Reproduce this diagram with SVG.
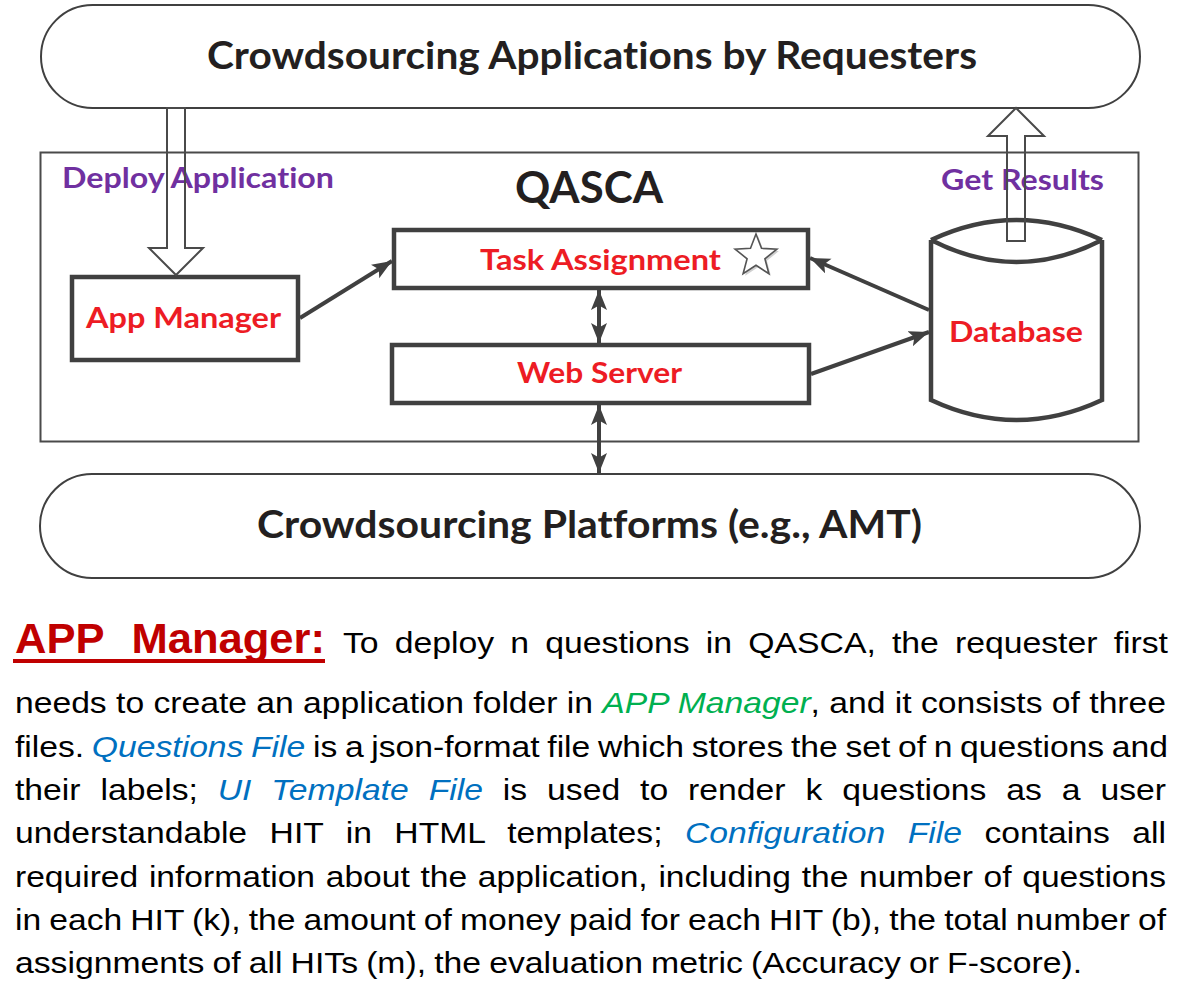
<svg xmlns="http://www.w3.org/2000/svg" width="1182" height="985" viewBox="0 0 1182 985">
<style>
.pill{fill:#fff;stroke:#404040;stroke-width:2}
.frame{fill:none;stroke:#4a4a4a;stroke-width:2}
.box{fill:#fff;stroke:#404040;stroke-width:4.5}
.hollow{fill:none;stroke:#4a4a4a;stroke-width:2;stroke-linejoin:miter}
.conn{stroke:#404040;stroke-width:4;fill:none}
.dt{font-family:Lato,"Open Sans","Liberation Sans",sans-serif;font-weight:bold;font-variant-ligatures:none}
.big{font-size:38px;fill:#231f20}
.lbl{font-size:29px;fill:#ed1c24}
.pur{font-size:28px;fill:#7030a0}
.body{font-family:"Liberation Sans",Arial,sans-serif;font-size:30px;fill:#000}
.g{fill:#00b050;font-style:italic}
.b{fill:#0070c0;font-style:italic}
</style>
<defs>
<marker id="ah" markerUnits="userSpaceOnUse" markerWidth="22" markerHeight="18" refX="20" refY="8" orient="auto-start-reverse">
<path d="M0,0 L20,8 L0,16 L4.5,8 z" fill="#404040"/>
</marker>
</defs>

<g id="requesters">
<rect class="pill" x="41" y="5" width="1099" height="103" rx="51.5"/>
<text class="dt big" x="207" y="69" textLength="770" lengthAdjust="spacingAndGlyphs">Crowdsourcing Applications by Requesters</text>
</g>

<g id="qasca">
<rect class="frame" x="40.5" y="152.5" width="1098" height="289"/>
<text class="dt" x="515" y="203" font-size="43" fill="#231f20" textLength="148" lengthAdjust="spacingAndGlyphs">QASCA</text>
<text class="dt pur" x="62" y="188" textLength="272" lengthAdjust="spacingAndGlyphs">Deploy Application</text>
<text class="dt pur" x="941" y="190" textLength="163" lengthAdjust="spacingAndGlyphs">Get Results</text>
</g>

<g id="platforms">
<rect class="pill" x="40" y="474" width="1100" height="104" rx="52"/>
<text class="dt big" x="257" y="538" font-size="37" textLength="665" lengthAdjust="spacingAndGlyphs">Crowdsourcing Platforms (e.g., AMT)</text>
</g>

<g id="task-assignment">
<rect class="box" x="394" y="230" width="414" height="58"/>
<text class="dt lbl" x="480" y="270" textLength="241" lengthAdjust="spacingAndGlyphs">Task Assignment</text>
<polygon points="758,236 763.5,250.3 778.9,251.1 766.9,260.8 770.9,275.7 758,267.3 745.1,275.7 749.1,260.8 737.1,251.1 752.5,250.3" fill="#d0d0d0" stroke="none"/>
<polygon points="756,234 761.5,248.3 776.9,249.1 764.9,258.8 768.9,273.7 756,265.3 743.1,273.7 747.1,258.8 735.1,249.1 750.5,248.3" fill="#fff" stroke="#555" stroke-width="1.6" stroke-linejoin="miter"/>
</g>

<g id="app-manager">
<rect class="box" x="72" y="277" width="226" height="83"/>
<text class="dt lbl" x="86" y="328" textLength="195" lengthAdjust="spacingAndGlyphs">App Manager</text>
</g>

<g id="web-server">
<rect class="box" x="392" y="345" width="417" height="58"/>
<text class="dt lbl" x="517" y="383" textLength="165" lengthAdjust="spacingAndGlyphs">Web Server</text>
</g>

<g id="database">
<path d="M931,240 Q1016.5,200 1102,240 L1102,400 Q1016.5,440 931,400 Z" fill="#fff" stroke="none"/>
<path d="M931,240 Q1016.5,200 1102,240 M931,240 Q1016.5,284 1102,240 M931,240 L931,400 Q1016.5,440 1102,400 L1102,240" fill="none" stroke="#404040" stroke-width="4.5" stroke-linejoin="miter"/>
<text class="dt lbl" x="949" y="342" textLength="134" lengthAdjust="spacingAndGlyphs">Database</text>
</g>

<g id="connectors">
<polygon class="hollow" points="167,108 185,108 185,248 203,248 176,275 149,248 167,248"/>
<polygon class="hollow" points="1007,241 1025,241 1025,136 1044,136 1016,108 988,136 1007,136"/>
<line class="conn" x1="300" y1="318" x2="392" y2="261" marker-end="url(#ah)"/>
<line class="conn" x1="929" y1="310" x2="810" y2="258" marker-end="url(#ah)"/>
<line class="conn" x1="811" y1="374" x2="929" y2="332" marker-end="url(#ah)"/>
<line class="conn" x1="599" y1="290" x2="599" y2="343" marker-start="url(#ah)" marker-end="url(#ah)"/>
<line class="conn" x1="599" y1="405" x2="599" y2="473" marker-start="url(#ah)" marker-end="url(#ah)"/>
</g>

<g id="description">
<text x="15" y="653" font-family="Liberation Sans,Arial,sans-serif" font-weight="bold" font-size="42" fill="#c00000" word-spacing="15" textLength="310" lengthAdjust="spacingAndGlyphs">APP Manager:</text>
<rect x="13" y="659" width="312" height="4" fill="#c00000"/>
<text class="body" x="343" y="653" word-spacing="6" textLength="825" lengthAdjust="spacingAndGlyphs">To deploy n questions in QASCA, the requester first</text>
<text class="body" x="15" y="713" word-spacing="0" textLength="1151" lengthAdjust="spacingAndGlyphs">needs to create an application folder in <tspan class="g">APP Manager</tspan>, and it consists of three</text>
<text class="body" x="15" y="757" word-spacing="-1.5" textLength="1153" lengthAdjust="spacingAndGlyphs">files. <tspan class="b">Questions File</tspan> is a json-format file which stores the set of n questions and</text>
<text class="body" x="15" y="800" word-spacing="9.4" textLength="1151" lengthAdjust="spacingAndGlyphs">their labels; <tspan class="b">UI Template File</tspan> is used to render k questions as a user</text>
<text class="body" x="15" y="843" word-spacing="11.7" textLength="1151" lengthAdjust="spacingAndGlyphs">understandable HIT in HTML templates; <tspan class="b">Configuration File</tspan> contains all</text>
<text class="body" x="15" y="887" word-spacing="1.2" textLength="1151" lengthAdjust="spacingAndGlyphs">required information about the application, including the number of questions</text>
<text class="body" x="15" y="930" word-spacing="-1.1" textLength="1151" lengthAdjust="spacingAndGlyphs">in each HIT (k), the amount of money paid for each HIT (b), the total number of</text>
<text class="body" x="15" y="973" word-spacing="-1.1" textLength="1067" lengthAdjust="spacingAndGlyphs">assignments of all HITs (m), the evaluation metric (Accuracy or F-score).</text>
</g>
</svg>
